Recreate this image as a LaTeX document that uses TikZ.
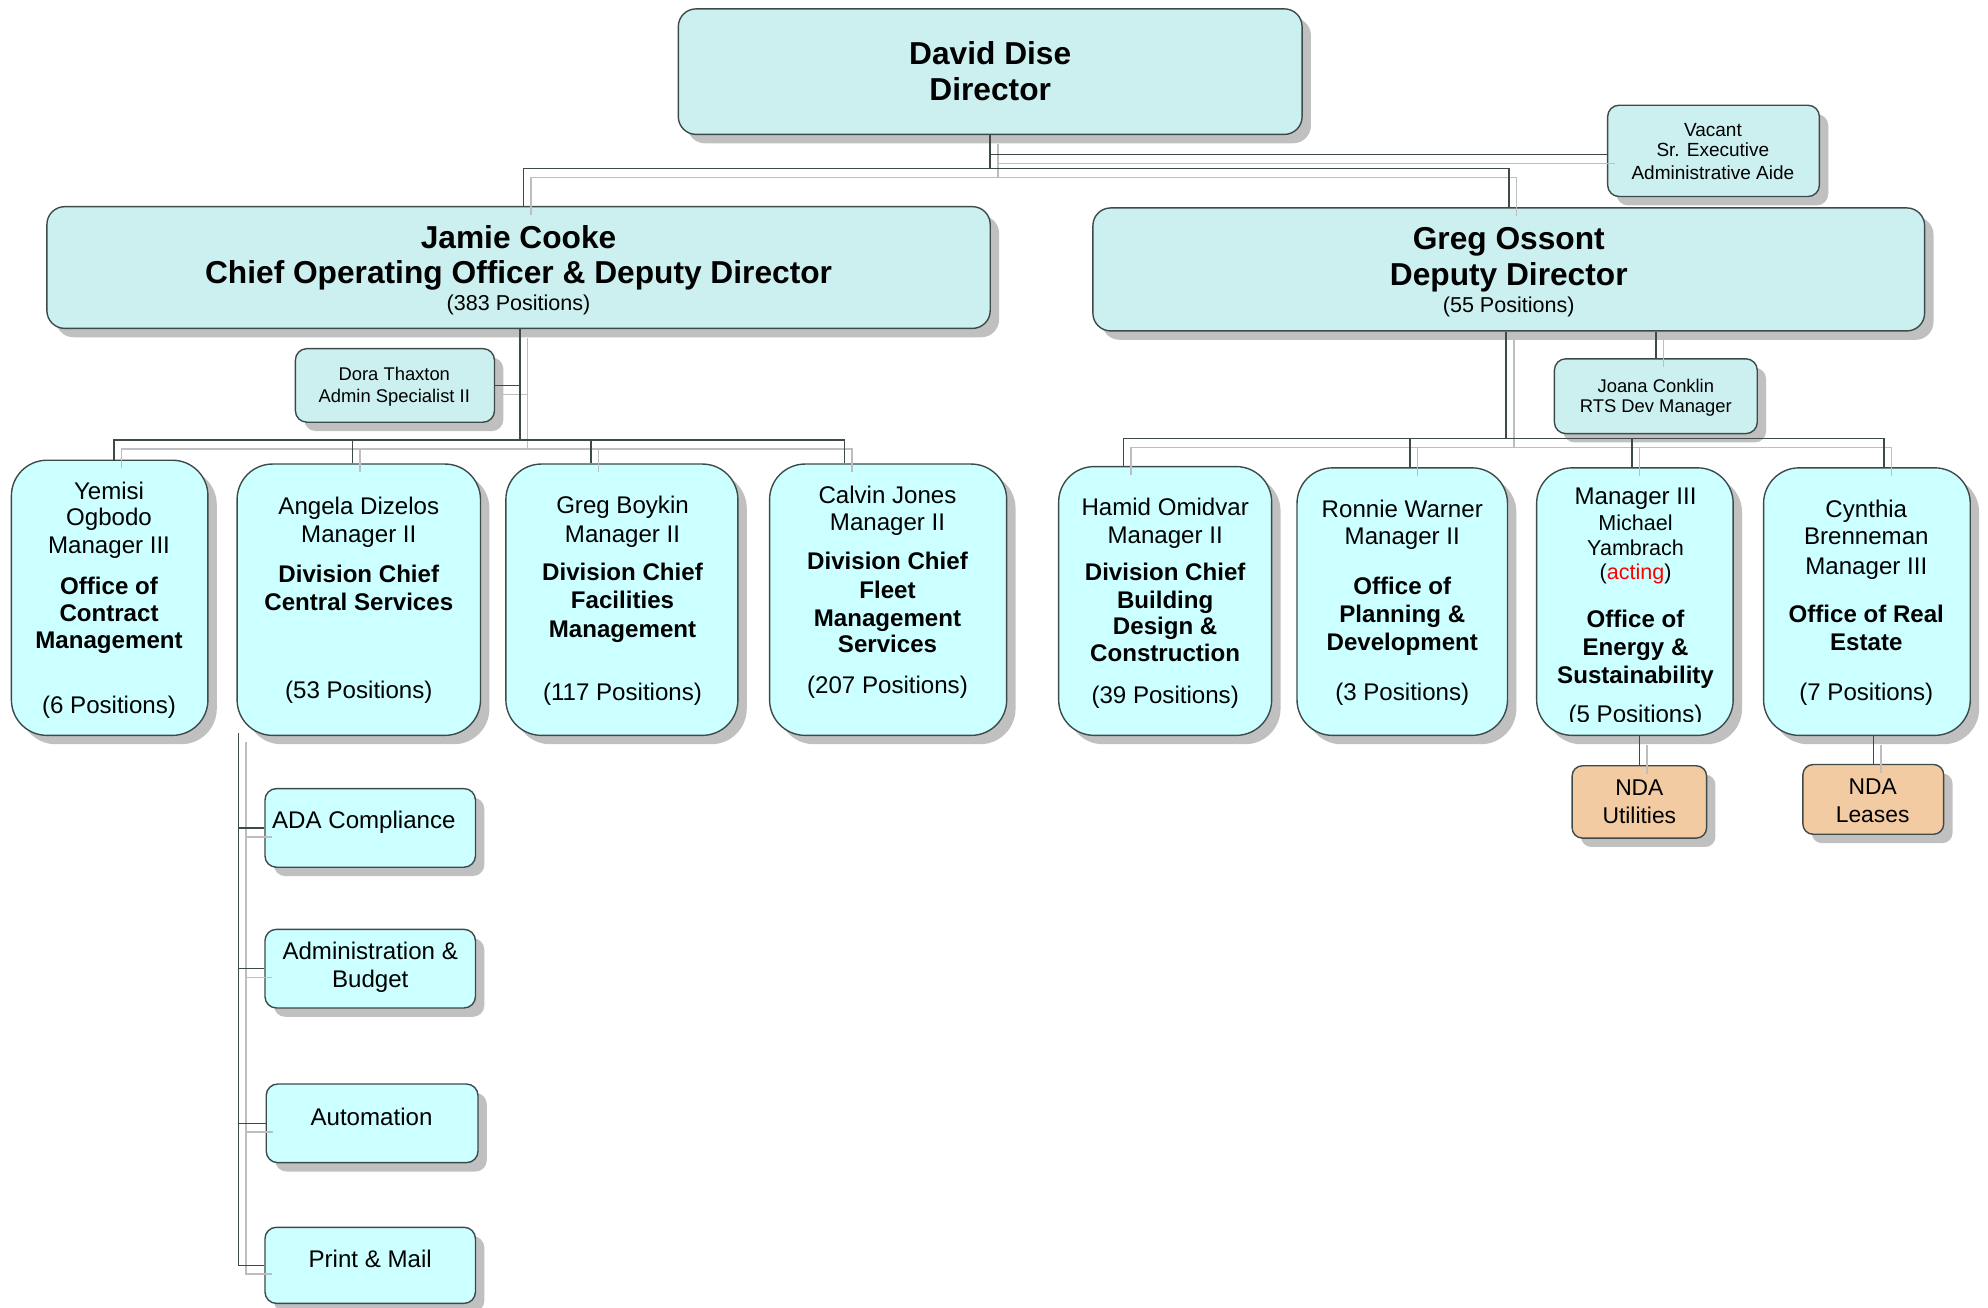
\documentclass[tikz,border=0pt]{standalone}
\usepackage{fontspec}
\setmainfont{Liberation Sans}
\usetikzlibrary{shadows}
\definecolor{topfill}{RGB}{204,240,240}
\definecolor{kidfill}{RGB}{204,255,255}
\definecolor{ndafill}{RGB}{242,203,162}
\definecolor{edgec}{RGB}{62,74,74}
\definecolor{ghostc}{RGB}{190,190,190}
\definecolor{shad}{RGB}{192,192,192}
\tikzset{
  box/.style={draw=edgec, line width=1.1pt, inner sep=0pt,
    drop shadow={shadow xshift=7pt, shadow yshift=-7pt, fill=shad, opacity=1}},
  topbig/.style={box, fill=topfill, rounded corners=14pt},
  topsmall/.style={box, fill=topfill, rounded corners=9pt},
  kid/.style={box, fill=kidfill, rounded corners=28pt},
  nda/.style={box, fill=ndafill, rounded corners=8pt},
  sub/.style={box, fill=kidfill, rounded corners=9pt},
  conn/.style={draw=edgec, line width=1.2pt},
  tx/.style={inner sep=0pt, text depth=0pt, anchor=center},
  fA/.style={tx, font=\fontsize{25}{30}\selectfont\bfseries, text height=17.9pt},
  fP/.style={tx, font=\fontsize{17}{20}\selectfont, text height=12.2pt},
  fS/.style={tx, font=\fontsize{14.5}{17}\selectfont, text height=10.4pt},
  fV/.style={tx, font=\fontsize{15}{17}\selectfont, text height=10.7pt},
  fR/.style={tx, font=\fontsize{19}{22}\selectfont, text height=13.6pt},
  fB/.style={tx, font=\fontsize{19}{22}\selectfont\bfseries, text height=13.6pt},
  fN/.style={tx, font=\fontsize{18}{21}\selectfont, text height=12.9pt},
}
\newcommand\bx[6]{\node[#6, minimum width={#4pt-#2pt}, minimum height={#5pt-#3pt}] (#1) at ({(#2+#4)/2},{(#3+#5)/2}) {};}
\newcommand\tl[5]{\node[#4] (#1) at (#2,#3) {#5};}
\newcommand\drawconns{%
  \coordinate (dbus) at (781,133);
  \draw[conn] (dir.south) -- (dbus);
  \draw[conn] ([xshift=4pt]jc.north) |- (dbus) -| (go.north);
  \draw[conn] ([yshift=-3pt]dir.south |- vac.west) -- ([yshift=-3pt]vac.west);
  \coordinate (jbus) at (410,347);
  \draw[conn] (jc.south -| jbus) -- (jbus);
  \draw[conn] (dora.east) -- (dora.east -| jbus);
  \draw[conn] ([xshift=3.5pt]yem.north) |- (jbus) -| ([xshift=-34.5pt]cal.north);
  \draw[conn] ([xshift=-5pt]ang.north) -- ([xshift=-5pt]ang.north |- jbus);
  \draw[conn] ([xshift=-24.5pt]boy.north) -- ([xshift=-24.5pt]boy.north |- jbus);
  \coordinate (gbus) at (1188,346);
  \draw[conn] (go.south -| gbus) -- (gbus);
  \draw[conn] (joa.north) -- (joa.north |- go.south);
  \draw[conn] ([xshift=-33pt]ham.north) |- (gbus) -| ([xshift=13.5pt]cyn.north);
  \draw[conn] ([xshift=6pt]ron.north) -- ([xshift=6pt]ron.north |- gbus);
  \draw[conn] ([xshift=-2.5pt]mic.north) -- ([xshift=-2.5pt]mic.north |- gbus);
  \draw[conn] (mic.south -| ndau.north) -- (ndau.north);
  \draw[conn] (cyn.south -| ndal.north) -- (ndal.north);
  \coordinate (asp) at (188,578);
  \draw[conn] (asp) |- (pm.west);
  \draw[conn] (ada.west) -- (ada.west -| asp);
  \draw[conn] (adm.west) -- (adm.west -| asp);
  \draw[conn] (aut.west) -- (aut.west -| asp);
}
\begin{document}
\begin{tikzpicture}[x=1pt,y=-1pt]
\useasboundingbox (0,0) rectangle (1568,1031);
% boxes
\bx{dir}{535}{7}{1027}{106}{topbig}
\bx{vac}{1268}{83}{1435}{155}{topsmall}
\bx{jc}{37}{163}{781}{259}{topbig}
\bx{go}{862}{164}{1518}{261}{topbig}
\bx{dora}{233}{275}{390}{333}{topsmall}
\bx{joa}{1226}{283}{1386}{342}{topsmall}
\bx{yem}{9}{363}{164}{580}{kid}
\bx{ang}{187}{366}{379}{580}{kid}
\bx{boy}{399}{366}{582}{580}{kid}
\bx{cal}{607}{366}{794}{580}{kid}
\bx{ham}{835}{368}{1003}{580}{kid}
\bx{ron}{1023}{369}{1189}{580}{kid}
\bx{mic}{1212}{369}{1367}{580}{kid}
\bx{cyn}{1391}{369}{1554}{580}{kid}
\bx{ndau}{1240}{604}{1346}{661}{nda}
\bx{ndal}{1422}{603}{1533}{658}{nda}
\bx{ada}{209}{622}{375}{684}{sub}
\bx{adm}{209}{733}{375}{795}{sub}
\bx{aut}{210}{855}{377}{917}{sub}
\bx{pm}{209}{968}{375}{1028}{sub}
% ghost connectors
\begin{scope}[conn/.style={draw=ghostc, line width=1.2pt}, transform canvas={shift={(6pt,-7pt)}}]
\drawconns
\end{scope}
% connectors
\drawconns
% texts
\tl{t1}{781}{42}{fA}{David Dise}
\tl{t2}{781}{70}{fA}{Director}
\tl{t3}{1351}{102}{fV}{Vacant}
\tl{t4}{1351}{118}{fV}{Sr. Executive}
\tl{t5}{1351}{136}{fV}{Administrative Aide}
\tl{t6}{409}{187}{fA}{Jamie Cooke}
\tl{t7}{409}{215}{fA}{Chief Operating Officer \& Deputy Director}
\tl{t8}{409}{239}{fP}{(383 Positions)}
\tl{t9}{1190}{188}{fA}{Greg Ossont}
\tl{t10}{1190}{216}{fA}{Deputy Director}
\tl{t11}{1190}{240}{fP}{(55 Positions)}
\tl{t12}{311}{295}{fS}{Dora Thaxton}
\tl{t13}{311}{312}{fS}{Admin Specialist II}
\tl{t14}{1306}{304}{fS}{Joana Conklin}
\tl{t15}{1306}{320}{fS}{RTS Dev Manager}
% Yemisi
\tl{y1}{86}{387}{fR}{Yemisi}
\tl{y2}{86}{408}{fR}{Ogbodo}
\tl{y3}{86}{430}{fR}{Manager III}
\tl{y4}{86}{462}{fB}{Office of}
\tl{y5}{86}{483}{fB}{Contract}
\tl{y6}{86}{505}{fB}{Management}
\tl{y7}{86}{556}{fR}{(6 Positions)}
% Angela
\tl{a1}{283}{399}{fR}{Angela Dizelos}
\tl{a2}{283}{421}{fR}{Manager II}
\tl{a3}{283}{453}{fB}{Division Chief}
\tl{a4}{283}{475}{fB}{Central Services}
\tl{a5}{283}{544}{fR}{(53 Positions)}
% Greg Boykin
\tl{b1}{491}{398}{fR}{Greg Boykin}
\tl{b2}{491}{421}{fR}{Manager II}
\tl{b3}{491}{451}{fB}{Division Chief}
\tl{b4}{491}{473}{fB}{Facilities}
\tl{b5}{491}{496}{fB}{Management}
\tl{b6}{491}{546}{fR}{(117 Positions)}
% Calvin
\tl{c1}{700}{390}{fR}{Calvin Jones}
\tl{c2}{700}{412}{fR}{Manager II}
\tl{c3}{700}{442}{fB}{Division Chief}
\tl{c4}{700}{465}{fB}{Fleet}
\tl{c5}{700}{487}{fB}{Management}
\tl{c6}{700}{508}{fB}{Services}
\tl{c7}{700}{540}{fR}{(207 Positions)}
% Hamid
\tl{h1}{919}{400}{fR}{Hamid Omidvar}
\tl{h2}{919}{422}{fR}{Manager II}
\tl{h3}{919}{451}{fB}{Division Chief}
\tl{h4}{919}{473}{fB}{Building}
\tl{h5}{919}{494}{fB}{Design \&}
\tl{h6}{919}{515}{fB}{Construction}
\tl{h7}{919}{548}{fR}{(39 Positions)}
% Ronnie
\tl{r1}{1106}{401}{fR}{Ronnie Warner}
\tl{r2}{1106}{423}{fR}{Manager II}
\tl{r3}{1106}{462}{fB}{Office of}
\tl{r4}{1106}{484}{fB}{Planning \&}
\tl{r5}{1106}{506}{fB}{Development}
\tl{r6}{1106}{546}{fR}{(3 Positions)}
% Michael
\tl{m1}{1290}{391}{fR}{Manager III}
\tl{m2}{1290}{412}{fP}{Michael}
\tl{m3}{1290}{432}{fP}{Yambrach}
\tl{m4}{1290}{451}{fP}{(\textcolor{red}{acting})}
\tl{m5}{1290}{488}{fB}{Office of}
\tl{m6}{1290}{510}{fB}{Energy \&}
\tl{m7}{1290}{532}{fB}{Sustainability}
\begin{scope}
\clip (1212,540) rectangle (1367,569);
\tl{m8}{1290}{563}{fR}{(5 Positions)}
\end{scope}
% Cynthia
\tl{k1}{1472}{401}{fR}{Cynthia}
\tl{k2}{1472}{423}{fR}{Brenneman}
\tl{k3}{1472}{446}{fR}{Manager III}
\tl{k4}{1472}{484}{fB}{Office of Real}
\tl{k5}{1472}{506}{fB}{Estate}
\tl{k6}{1472}{546}{fR}{(7 Positions)}
% NDA
\tl{n1}{1293}{621}{fN}{NDA}
\tl{n2}{1293}{643}{fN}{Utilities}
\tl{n3}{1477}{620}{fN}{NDA}
\tl{n4}{1477}{642}{fN}{Leases}
% sub boxes
\tl{s1}{287}{647}{fR}{ADA Compliance}
\tl{s2}{292}{750}{fR}{Administration \&}
\tl{s3}{292}{772}{fR}{Budget}
\tl{s4}{293}{881}{fR}{Automation}
\tl{s5}{292}{993}{fR}{Print \& Mail}
\end{tikzpicture}
\end{document}
